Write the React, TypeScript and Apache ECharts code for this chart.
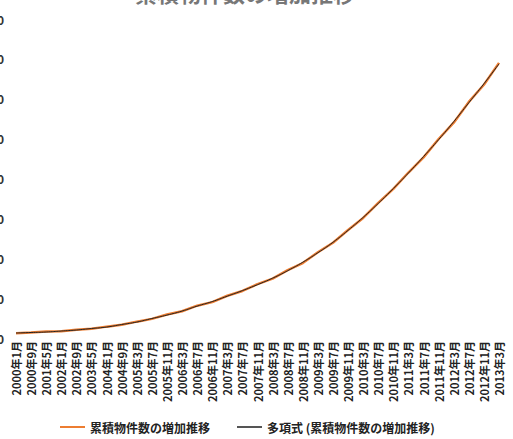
import React, { useEffect, useRef } from "react";
import * as echarts from "echarts";

const categories = [
  "2000年1月", "2000年9月", "2001年5月", "2002年1月", "2002年9月", "2003年5月",
  "2004年1月", "2004年9月", "2005年3月", "2005年7月", "2005年11月", "2006年3月",
  "2006年7月", "2006年11月", "2007年3月", "2007年7月", "2007年11月", "2008年3月",
  "2008年7月", "2008年11月", "2009年3月", "2009年7月", "2009年11月", "2010年3月",
  "2010年7月", "2010年11月", "2011年3月", "2011年7月", "2011年11月", "2012年3月",
  "2012年7月", "2012年11月", "2013年3月",
];

const cumulativeCounts = [
  120, 135, 160, 170, 205, 230, 285, 330, 410, 480, 590, 670, 810, 900, 1060,
  1180, 1350, 1490, 1700, 1880, 2150, 2390, 2710, 3010, 3390, 3740, 4150, 4530,
  4990, 5400, 5920, 6350, 6900,
];

const polynomialTrend = [
  125, 138, 150, 175, 200, 238, 275, 338, 400, 488, 575, 675, 800, 913, 1050,
  1188, 1338, 1500, 1688, 1900, 2138, 2400, 2700, 3025, 3375, 3750, 4138, 4550,
  4975, 5425, 5900, 6375, 6875,
];

const seriesNames = ["累積物件数の増加推移", "多項式 (累積物件数の増加推移)"];
const titleText = "累積物件数の増加推移";

export default function App() {
  const ref = useRef<HTMLDivElement>(null);
  useEffect(() => {
    if (!ref.current) return;
    const chart = echarts.init(ref.current, null, { renderer: "svg" });
    const font = "'Noto Sans CJK JP', 'Noto Sans', sans-serif";
    chart.setOption({
      animation: false,
      backgroundColor: "#ffffff",
      textStyle: { fontFamily: font },
      graphic: [
        {
          type: "text",
          x: 245,
          y: 3,
          style: {
            text: titleText,
            fontSize: 22,
            fontWeight: "bold",
            fontFamily: font,
            fill: "#777",
            textAlign: "center",
            textVerticalAlign: "bottom",
          },
        },
      ],
      grid: {
        left: 16,
        right: 14,
        top: 19,
        bottom: 101,
        containLabel: false,
        outerBoundsMode: "none",
      },
      legend: {
        left: 55,
        top: 416,
        itemWidth: 25,
        itemHeight: 2,
        itemGap: 27,
        textStyle: { fontSize: 12, fontWeight: "bold", color: "#222", fontFamily: font },
        data: [
          { name: seriesNames[0], icon: "rect" },
          { name: seriesNames[1], icon: "rect" },
        ],
      },
      xAxis: {
        type: "category",
        data: categories,
        boundaryGap: false,
        axisLine: { show: false },
        axisTick: { show: false },
        axisLabel: {
          interval: 0,
          rotate: 90,
          margin: 3,
          fontSize: 11,
          fontWeight: "bold",
          color: "#222",
          fontFamily: font,
        },
      },
      yAxis: {
        type: "value",
        min: 0,
        max: 8000,
        interval: 1000,
        axisLine: { show: false },
        axisTick: { show: false },
        splitLine: { show: false },
        axisLabel: { margin: 12, fontSize: 12, fontWeight: "bold", color: "#333", fontFamily: font },
      },
      series: [
        {
          name: seriesNames[0],
          type: "line",
          data: cumulativeCounts,
          symbol: "none",
          lineStyle: { color: "#ED7D31", width: 2.5 },
          itemStyle: { color: "#ED7D31" },
        },
        {
          name: seriesNames[1],
          type: "line",
          data: polynomialTrend,
          symbol: "none",
          smooth: true,
          lineStyle: { color: "#222", width: 1 },
          itemStyle: { color: "#555" },
        },
      ],
    });
    return () => chart.dispose();
  }, []);
  return (
    <div
      ref={ref}
      style={{ position: "fixed", left: 0, top: 0, width: 513, height: 439, background: "#fff" }}
    />
  );
}
